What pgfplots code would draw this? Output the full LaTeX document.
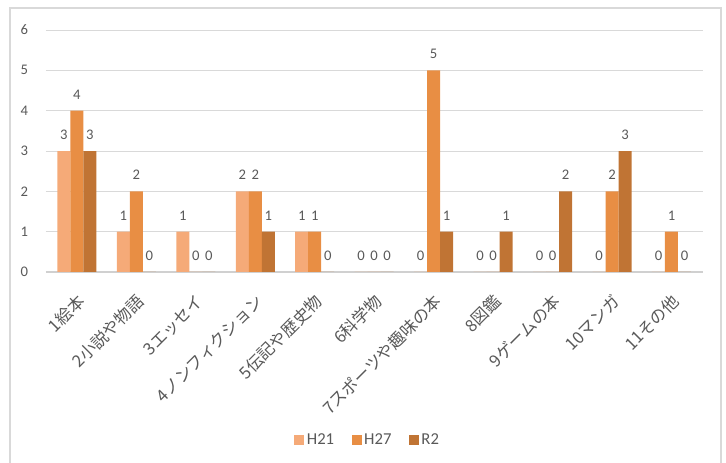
\documentclass[border=0pt]{standalone}
\usepackage{fontspec}
\setmainfont{Carlito}
\newfontfamily\cjk{Noto Sans CJK JP}
\usepackage{pgfplots}
\pgfplotsset{compat=1.18}
\definecolor{txt}{HTML}{595959}
\definecolor{gridc}{HTML}{D9D9D9}
\definecolor{axisc}{HTML}{D0D0D0}
\definecolor{framec}{HTML}{D9D9D9}
\definecolor{cA}{RGB}{245,170,120}
\definecolor{cB}{RGB}{232,142,68}
\definecolor{cC}{RGB}{192,116,52}
\begin{document}
\begin{tikzpicture}
\useasboundingbox (0,0) rectangle (544.5pt,-347.25pt);
\draw[color=framec, line width=0.9pt] (7.5pt,-6pt) rectangle (540.75pt,-360pt);
\begin{axis}[
  at={(34.5pt,-204pt)}, anchor=south west,
  scale only axis, width=492.75pt, height=181.5pt,
  xmin=-0.52, xmax=10.53, ymin=0, ymax=6,
  ybar=0pt, bar width=9.75pt,
  xtick={0,...,10},
  xticklabels={{1絵本},{2小説や物語},{3エッセイ},{4ノンフィクション},{5伝記や歴史物},{6科学物},{7スポーツや趣味の本},{8図鑑},{9ゲームの本},{10マンガ},{11その他}},
  xticklabel style={font=\cjk\fontsize{12.5}{14}\selectfont, text=txt, rotate=45, anchor=east, inner sep=1pt, xshift=-10.5pt, yshift=-16.5pt},
  ytick={0,...,6},
  yticklabel style={font=\fontsize{11}{13}\selectfont, text=txt, xshift=-10pt},
  /pgf/number format/assume math mode=true,
  major tick length=0pt,
  ymajorgrids, grid style={color=gridc, line width=0.75pt},
  axis x line*=bottom, axis y line*=left,
  x axis line style={draw=axisc, line width=1pt, -},
  y axis line style={draw=none},
  nodes near coords,
  every node near coord/.append style={font=\fontsize{11}{13}\selectfont, text=txt, anchor=south, yshift=5pt},
  legend columns=3,
  legend style={at={(0.49,-0.694)}, anchor=center, draw=none, fill=none,
    font=\fontsize{12.5}{14}\selectfont, text=txt,
    /tikz/every even column/.append style={column sep=11pt}},
  legend image code/.code={\fill[#1] (0pt,-4pt) rectangle (7.5pt,4pt);},
]
\addplot[fill=cA, draw=none] coordinates {(0,3) (1,1) (2,1) (3,2) (4,1) (5,0) (6,0) (7,0) (8,0) (9,0) (10,0)};
\addplot[fill=cB, draw=none] coordinates {(0,4) (1,2) (2,0) (3,2) (4,1) (5,0) (6,5) (7,0) (8,0) (9,2) (10,1)};
\addplot[fill=cC, draw=none] coordinates {(0,3) (1,0) (2,0) (3,1) (4,0) (5,0) (6,1) (7,1) (8,2) (9,3) (10,0)};
\legend{H21,H27,R2}
\end{axis}
\end{tikzpicture}
\end{document}
